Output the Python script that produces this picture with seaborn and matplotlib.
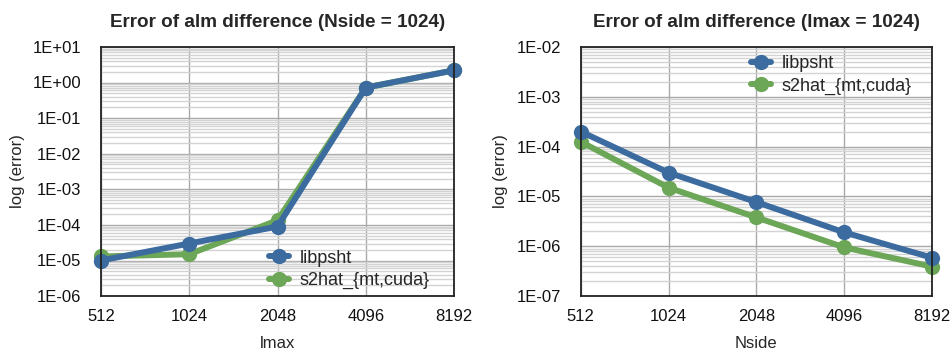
import numpy as np
import pandas as pd
import matplotlib
matplotlib.use("Agg")
import matplotlib.pyplot as plt
import matplotlib.ticker as mticker
import seaborn as sns

# Error of alm difference vs lmax (Nside = 1024)
lmax = [512, 1024, 2048, 4096, 8192]
err_lmax_libpsht = [1.0e-5, 3.0e-5, 9.0e-5, 0.72, 2.2]
err_lmax_s2hat = [1.3e-5, 1.5e-5, 1.35e-4, 0.72, 2.2]

# Error of alm difference vs Nside (lmax = 1024)
nside = [512, 1024, 2048, 4096, 8192]
err_nside_libpsht = [2.0e-4, 3.0e-5, 7.7e-6, 1.9e-6, 5.9e-7]
err_nside_s2hat = [1.25e-4, 1.5e-5, 3.8e-6, 9.5e-7, 3.9e-7]

series_names = ["libpsht", "s2hat_{mt,cuda}"]
colors = {"libpsht": "#3c6b9f", "s2hat_{mt,cuda}": "#6ca657"}

sns.set_theme(style="white")
plt.rcParams["font.family"] = ["Liberation Sans", "DejaVu Sans"]

fig = plt.figure(figsize=(9.52, 3.5), dpi=100)
ax1 = fig.add_axes([0.106, 0.154, 0.371, 0.712])
ax2 = fig.add_axes([0.610, 0.154, 0.369, 0.712])


def draw(ax, xs, ys_a, ys_b, xlabel, title, ylim, legend_pos):
    df = pd.concat([
        pd.DataFrame({"x": xs, "err": ys_a, "series": series_names[0]}),
        pd.DataFrame({"x": xs, "err": ys_b, "series": series_names[1]}),
    ])
    # green underneath, blue on top
    for name in [series_names[1], series_names[0]]:
        sub = df[df["series"] == name]
        sns.lineplot(data=sub, x="x", y="err", ax=ax, color=colors[name],
                     marker="o", markersize=11, linewidth=4.3,
                     markeredgewidth=0, label=name, clip_on=False)
    ax.set_xscale("log", base=2)
    ax.set_yscale("log")
    ax.set_xlim(xs[0], xs[-1])
    ax.set_ylim(*ylim)
    ax.xaxis.set_major_locator(mticker.FixedLocator(xs))
    ax.xaxis.set_major_formatter(mticker.FixedFormatter([str(v) for v in xs]))
    ax.xaxis.set_minor_locator(mticker.NullLocator())
    ax.yaxis.set_major_locator(mticker.LogLocator(base=10, numticks=20))
    ax.yaxis.set_minor_locator(mticker.LogLocator(base=10, subs=np.arange(2, 10), numticks=20))
    ax.yaxis.set_minor_formatter(mticker.NullFormatter())
    ax.yaxis.set_major_formatter(mticker.FuncFormatter(
        lambda v, p: "1E%+03d" % int(round(np.log10(v)))))
    ax.grid(True, which="major", axis="both", color="#a9a9a9", linewidth=1.0)
    ax.grid(True, which="minor", axis="y", color="#d3d3d3", linewidth=1.0)
    ax.set_axisbelow(True)
    ax.tick_params(axis="both", which="both", length=0, labelsize=12, colors="#111111")
    ax.tick_params(axis="y", pad=14)
    ax.tick_params(axis="x", pad=9)
    for s in ax.spines.values():
        s.set_color("#222222")
        s.set_linewidth(1.3)
    ax.set_xlabel(xlabel, fontsize=12, labelpad=9)
    ax.set_ylabel("log (error)", fontsize=12, labelpad=6)
    ax.set_title(title, fontsize=13.6, fontweight="bold", pad=14)
    handles, labels = ax.get_legend_handles_labels()
    order = [labels.index(n) for n in series_names]
    ax.legend([handles[i] for i in order], [labels[i] for i in order],
              loc="upper left", bbox_to_anchor=legend_pos, frameon=False,
              fontsize=13, handlelength=1.1, handletextpad=0.6,
              labelspacing=0.3, borderaxespad=0)


draw(ax1, lmax, err_lmax_libpsht, err_lmax_s2hat, "lmax",
     "Error of alm difference (Nside = 1024)", (1e-6, 1e1), (0.455, 0.215))
draw(ax2, nside, err_nside_libpsht, err_nside_s2hat, "Nside",
     "Error of alm difference (lmax = 1024)", (1e-7, 1e-2), (0.465, 0.995))

fig.savefig("out.png", dpi=100)
